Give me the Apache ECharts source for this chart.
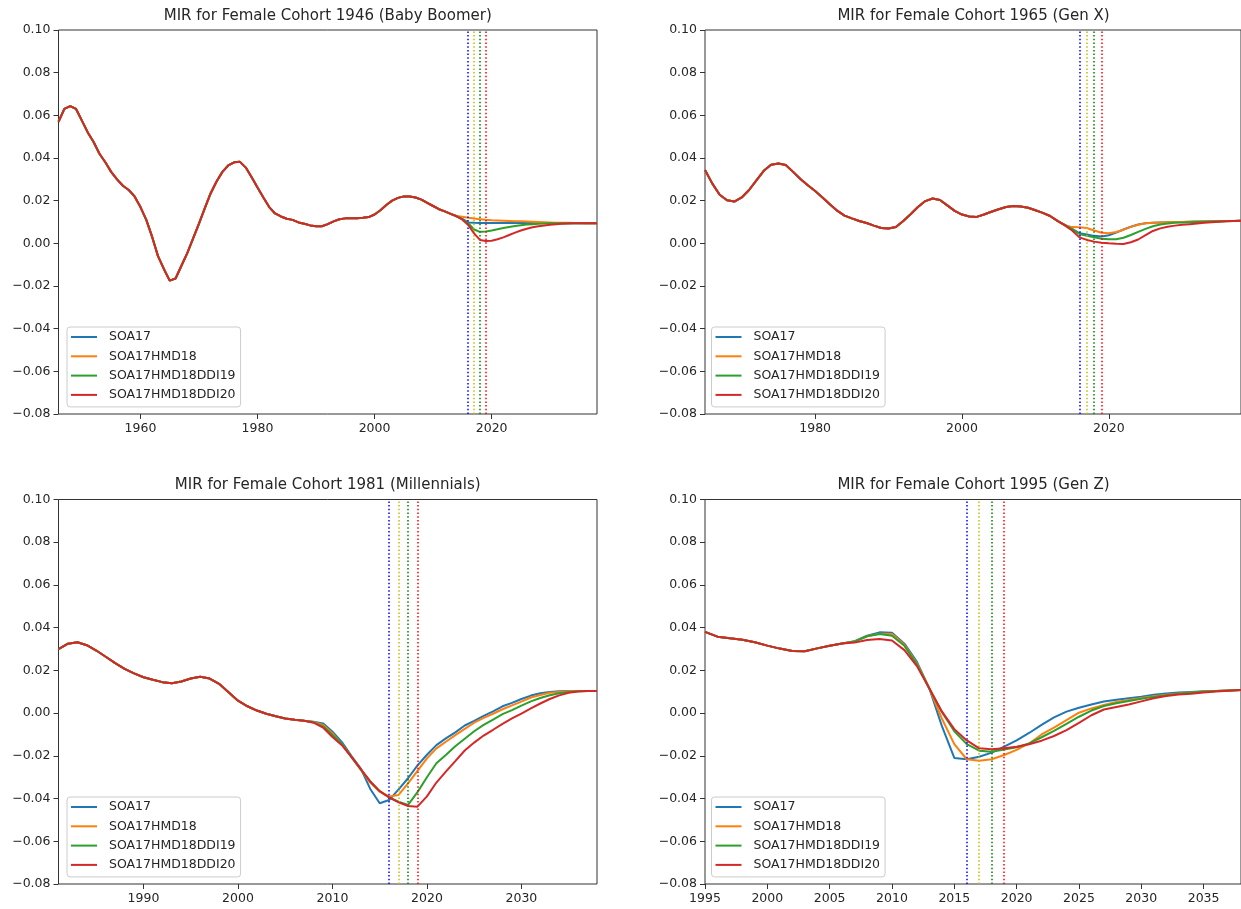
<!DOCTYPE html>
<html><head><meta charset="utf-8">
<script src="https://cdn.jsdelivr.net/npm/echarts@6/dist/echarts.min.js"></script>
<style>html,body{margin:0;padding:0;background:#fff}#c{width:1241px;height:909px}</style>
</head><body><div id="c"></div>
<script>
// ---------- labels ----------
const seriesNames = ['SOA17', 'SOA17HMD18', 'SOA17HMD18DDI19', 'SOA17HMD18DDI20'];
const panelTitles = [
  'MIR for Female Cohort 1946 (Baby Boomer)',
  'MIR for Female Cohort 1965 (Gen X)',
  'MIR for Female Cohort 1981 (Millennials)',
  'MIR for Female Cohort 1995 (Gen Z)'
];
const vlineYears = [2016, 2017, 2018, 2019];
const xTicks1946 = [1960, 1980, 2000, 2020];
const xTicks1965 = [1980, 2000, 2020];
const xTicks1981 = [1990, 2000, 2010, 2020, 2030];
const xTicks1995 = [1995, 2000, 2005, 2010, 2015, 2020, 2025, 2030, 2035];
const xRange1946 = [1946, 2038];
const xRange1965 = [1965, 2038];
const xRange1981 = [1981, 2038];
const xRange1995 = [1995, 2038];
const yMin = -0.08, yMax = 0.10, yStep = 0.02;

// ---------- Baby Boomer (1946) ----------
const boomerCommon = [ // 1946-2013
  0.057, 0.063, 0.0643, 0.063, 0.0575, 0.052, 0.0475, 0.042, 0.038, 0.0335,
  0.030, 0.027, 0.025, 0.022, 0.017, 0.011, 0.003, -0.006, -0.012, -0.0175,
  -0.0165, -0.0105, -0.0046, 0.0023, 0.0092, 0.0165, 0.0235, 0.029, 0.0335, 0.0365,
  0.038, 0.0382, 0.0355, 0.031, 0.0262, 0.0215, 0.017, 0.014, 0.0126, 0.0115,
  0.011, 0.0098, 0.0092, 0.0084, 0.008, 0.008, 0.009, 0.0103, 0.0113, 0.0117,
  0.0118, 0.0118, 0.012, 0.0123, 0.0135, 0.0155, 0.018, 0.020, 0.0213, 0.022,
  0.022, 0.0215, 0.0205, 0.019, 0.0175, 0.016, 0.015, 0.0138
];
const boomerSOA17 = [ // 2014-2038
  0.0127, 0.0115, 0.0098, 0.0096, 0.0095, 0.0095, 0.0095, 0.0095, 0.0095, 0.0095,
  0.0095, 0.0095, 0.0095, 0.0095, 0.0095, 0.0095, 0.0094, 0.0094, 0.0094, 0.0094,
  0.0094, 0.0094, 0.0094, 0.0094, 0.0094
];
const boomerHMD18 = [
  0.0128, 0.0125, 0.012, 0.0116, 0.0113, 0.011, 0.0108, 0.0107, 0.0106, 0.0105,
  0.0104, 0.0103, 0.0102, 0.0101, 0.010, 0.0099, 0.0098, 0.0097, 0.0096, 0.0096,
  0.0095, 0.0095, 0.0094, 0.0094, 0.0094
];
const boomerDDI19 = [
  0.0127, 0.0113, 0.0094, 0.0065, 0.0054, 0.0056, 0.006, 0.0066, 0.0072, 0.0077,
  0.0081, 0.0085, 0.0088, 0.009, 0.0092, 0.0093, 0.0094, 0.0094, 0.0094, 0.0094,
  0.0094, 0.0094, 0.0094, 0.0094, 0.0094
];
const boomerDDI20 = [
  0.0127, 0.0111, 0.0086, 0.0047, 0.0016, 0.0011, 0.0012, 0.0019, 0.0028, 0.0039,
  0.005, 0.006, 0.0068, 0.0075, 0.008, 0.0084, 0.0087, 0.009, 0.0092, 0.0093,
  0.0094, 0.0094, 0.0094, 0.0094, 0.0094
];

// ---------- Gen X (1965) ----------
const genXCommon = [ // 1965-2013
  0.0344, 0.028, 0.0228, 0.0202, 0.0196, 0.0215, 0.025, 0.0295, 0.034, 0.0368,
  0.0374, 0.0367, 0.0335, 0.0302, 0.0272, 0.0245, 0.0215, 0.0183, 0.0153, 0.013,
  0.0117, 0.0105, 0.0095, 0.0083, 0.0072, 0.007, 0.0077, 0.0105, 0.0136, 0.017,
  0.0198, 0.021, 0.0203, 0.0178, 0.0152, 0.0135, 0.0126, 0.0124, 0.0135, 0.0148,
  0.016, 0.017, 0.0175, 0.0173, 0.0167, 0.0155, 0.0143, 0.0128, 0.0105
];
const genXSOA17 = [ // 2014-2038
  0.0087, 0.0068, 0.0047, 0.0041, 0.0035, 0.0032, 0.0038, 0.005, 0.0065, 0.0078,
  0.0088, 0.0094, 0.0097, 0.0098, 0.0099, 0.010, 0.010, 0.0101, 0.0102, 0.0102,
  0.0103, 0.0104, 0.0105, 0.0105, 0.0106
];
const genXHMD18 = [
  0.0085, 0.0076, 0.0075, 0.0072, 0.006, 0.005, 0.0047, 0.0053, 0.0064, 0.0077,
  0.0087, 0.0094, 0.0097, 0.0098, 0.0099, 0.010, 0.010, 0.0101, 0.0102, 0.0102,
  0.0103, 0.0104, 0.0105, 0.0105, 0.0106
];
const genXDDI19 = [
  0.0086, 0.0067, 0.0044, 0.0035, 0.0028, 0.0022, 0.0019, 0.0019, 0.0026, 0.0039,
  0.0054, 0.0068, 0.008, 0.0088, 0.0093, 0.0096, 0.0098, 0.0099, 0.010, 0.0101,
  0.0102, 0.0103, 0.0104, 0.0105, 0.0106
];
const genXDDI20 = [
  0.0084, 0.006, 0.0028, 0.0016, 0.0008, 0.0003, 0.0, -0.0002, -0.0003, 0.0005,
  0.0018, 0.0038, 0.0058, 0.007, 0.0078, 0.0083, 0.0087, 0.009, 0.0093, 0.0096,
  0.0099, 0.0101, 0.0103, 0.0105, 0.0106
];

// ---------- Millennials (1981) ----------
const millCommon = [ // 1981-2007
  0.030, 0.0325, 0.0332, 0.0318, 0.0293, 0.0264, 0.0234, 0.0207, 0.0186, 0.0168,
  0.0156, 0.0145, 0.014, 0.0148, 0.0162, 0.017, 0.0162, 0.0137, 0.0098, 0.0058,
  0.0032, 0.0012, -0.0003, -0.0015, -0.0025, -0.0031, -0.0036
];
const millSOA17 = [ // 2008-2038
  -0.0040, -0.0048, -0.0087, -0.0136, -0.020, -0.026, -0.0355, -0.0422, -0.0407, -0.0357,
  -0.0305, -0.0245, -0.0195, -0.015, -0.0118, -0.009, -0.0058, -0.0036, -0.0013, 0.0008,
  0.0032, 0.0048, 0.0066, 0.0082, 0.0093, 0.0099, 0.0102, 0.0103, 0.0104, 0.0104, 0.0104
];
const millHMD18 = [
  -0.0042, -0.0055, -0.0095, -0.0145, -0.0205, -0.0265, -0.0325, -0.0368, -0.039, -0.0383,
  -0.0329, -0.027, -0.0212, -0.0165, -0.0134, -0.0103, -0.0074, -0.0045, -0.0022, -0.0003,
  0.0018, 0.0036, 0.0054, 0.0073, 0.0085, 0.0095, 0.0099, 0.0102, 0.0103, 0.0104, 0.0104
];
const millDDI19 = [
  -0.0043, -0.0062, -0.0102, -0.0145, -0.0205, -0.0265, -0.032, -0.0365, -0.0395, -0.0415,
  -0.043, -0.037, -0.030, -0.0235, -0.0196, -0.0155, -0.012, -0.0085, -0.0055, -0.003,
  -0.0005, 0.0014, 0.0035, 0.0055, 0.0071, 0.0084, 0.0093, 0.0099, 0.0102, 0.0104, 0.0104
];
const millDDI20 = [
  -0.0045, -0.0068, -0.0112, -0.015, -0.0205, -0.0262, -0.032, -0.0365, -0.0395, -0.0418,
  -0.0435, -0.0438, -0.039, -0.0325, -0.0274, -0.0225, -0.0175, -0.0138, -0.0105, -0.0078,
  -0.005, -0.0025, -0.0002, 0.0022, 0.0045, 0.0066, 0.0083, 0.0095, 0.0101, 0.0103, 0.0104
];

// ---------- Gen Z (1995) ----------
const genZCommon = [ // 1995-2006
  0.038, 0.0358, 0.035, 0.0343, 0.0332, 0.0316, 0.0302, 0.0291, 0.029, 0.0303, 0.0315, 0.0326
];
const genZSOA17 = [ // 2007-2038
  0.0337, 0.0362, 0.0378, 0.0376, 0.0325, 0.024, 0.0116, -0.006, -0.021, -0.0216,
  -0.0204, -0.0185, -0.0157, -0.0128, -0.0093, -0.0055, -0.002, 0.0007, 0.0025, 0.004,
  0.0054, 0.0063, 0.007, 0.0077, 0.0086, 0.0092, 0.0096, 0.0099, 0.0102, 0.0104, 0.0106, 0.0108
];
const genZHMD18 = [
  0.0335, 0.036, 0.0372, 0.037, 0.032, 0.0232, 0.0115, -0.0025, -0.0145, -0.0216,
  -0.0223, -0.0216, -0.0196, -0.0172, -0.0142, -0.010, -0.0068, -0.0033, 0.0002, 0.0022,
  0.0038, 0.0052, 0.0062, 0.0071, 0.0079, 0.0086, 0.0092, 0.0097, 0.0101, 0.0104, 0.0106, 0.0108
];
const genZDDI19 = [
  0.0335, 0.036, 0.037, 0.0362, 0.0315, 0.0228, 0.0115, 0.0005, -0.0085, -0.0145,
  -0.0176, -0.0181, -0.0171, -0.016, -0.0142, -0.0113, -0.0083, -0.005, -0.0017, 0.0012,
  0.0033, 0.0046, 0.0057, 0.0067, 0.0076, 0.0084, 0.0091, 0.0096, 0.010, 0.0103, 0.0106, 0.0108
];
const genZDDI20 = [
  0.033, 0.0342, 0.0347, 0.034, 0.0295, 0.022, 0.0115, 0.0008, -0.0075, -0.0128,
  -0.0165, -0.0169, -0.0165, -0.0157, -0.0146, -0.0129, -0.0107, -0.008, -0.0046, -0.001,
  0.0017, 0.0029, 0.004, 0.0055, 0.007, 0.008, 0.0087, 0.0091, 0.0096, 0.0101, 0.0105, 0.0108
];

// ---------- styling ----------
const lineColors = ['#1f77b4', '#ff7f0e', '#2ca02c', '#d62728'];
const vlineColors = ['#0000ff', '#bfbf00', '#008000', '#ff0000'];
const FONT = '"DejaVu Sans", sans-serif';
const TXT = '#262626';

const panels = [
  { range: xRange1946, ticks: xTicks1946, common: boomerCommon, tails: [boomerSOA17, boomerHMD18, boomerDDI19, boomerDDI20],
    grid: { left: 58.5, top: 30, width: 538.5, height: 384 }, legend: { left: 67, top: 327 } },
  { range: xRange1965, ticks: xTicks1965, common: genXCommon, tails: [genXSOA17, genXHMD18, genXDDI19, genXDDI20],
    grid: { left: 705, top: 30, width: 537, height: 384 }, legend: { left: 711.5, top: 327 } },
  { range: xRange1981, ticks: xTicks1981, common: millCommon, tails: [millSOA17, millHMD18, millDDI19, millDDI20],
    grid: { left: 58.5, top: 499.5, width: 538.5, height: 384.5 }, legend: { left: 67, top: 797 } },
  { range: xRange1995, ticks: xTicks1995, common: genZCommon, tails: [genZSOA17, genZHMD18, genZDDI19, genZDDI20],
    grid: { left: 705, top: 499.5, width: 537, height: 384.5 }, legend: { left: 711.5, top: 797 } }
];

const grids = [], xAxes = [], yAxes = [], series = [], legends = [], graphics = [];
const fmtY = v => (v < -1e-9 ? '\u2212' : '') + Math.abs(v).toFixed(2);
const fmtX = v => String(Math.round(v));

panels.forEach((p, pi) => {
  grids.push(Object.assign({ show: true, borderColor: '#333', borderWidth: 1, containLabel: false }, p.grid));
  xAxes.push({
    type: 'value', gridIndex: pi, min: p.range[0], max: p.range[1], position: 'bottom',
    axisLine: { show: false, onZero: false },
    axisTick: { show: true, inside: false, length: 5, customValues: p.ticks, lineStyle: { color: '#333', width: 1 } },
    axisLabel: { customValues: p.ticks, margin: 8, fontSize: 12.5, fontFamily: FONT, color: TXT, formatter: fmtX },
    splitLine: { show: false }
  });
  yAxes.push({
    type: 'value', gridIndex: pi, min: yMin, max: yMax, interval: yStep, position: 'left',
    axisLine: { show: false, onZero: false },
    axisTick: { show: true, inside: false, length: 5, lineStyle: { color: '#333', width: 1 } },
    axisLabel: { margin: 8, fontSize: 12.5, fontFamily: FONT, color: TXT, formatter: fmtY },
    splitLine: { show: false }
  });
  p.tails.forEach((tail, si) => {
    const vals = p.common.concat(tail);
    const s = {
      name: seriesNames[si], type: 'line', xAxisIndex: pi, yAxisIndex: pi,
      data: vals.map((v, k) => [p.range[0] + k, v]),
      symbol: 'none', showSymbol: false, smooth: false,
      lineStyle: { color: lineColors[si], width: 2 }, itemStyle: { color: lineColors[si] },
      animation: false, z: 2 + si
    };
    if (si === 3) {
      s.markLine = {
        silent: true, symbol: ['none', 'none'], label: { show: false }, animation: false,
        data: vlineYears.map((yr, i) => ({ xAxis: yr, lineStyle: { color: vlineColors[i], type: [1.5, 2.2], width: 1.5 } }))
      };
    }
    series.push(s);
  });
  legends.push({
    data: seriesNames, orient: 'vertical', left: p.legend.left, top: p.legend.top,
    icon: 'rect', itemWidth: 26, itemHeight: 2, itemGap: 5.3,
    padding: [3, 5, 5, 4], borderColor: '#cccccc', borderWidth: 1, borderRadius: 3,
    backgroundColor: 'rgba(255,255,255,0.8)', selectedMode: false,
    textStyle: { fontSize: 12.5, fontFamily: FONT, color: TXT, lineHeight: 14, padding: [0, 0, 0, 7] }
  });
  const cx = p.grid.left + p.grid.width / 2;
  const cy = p.grid.top - 14.3;
  graphics.push({
    type: 'text', x: cx, y: cy, silent: true,
    style: { text: panelTitles[pi], font: '15px ' + FONT, fill: TXT,
      align: 'center', textAlign: 'center', verticalAlign: 'middle', textVerticalAlign: 'middle' }
  });
});

const chart = echarts.init(document.getElementById('c'), null, { renderer: 'canvas' });
chart.setOption({
  backgroundColor: '#ffffff',
  animation: false,
  grid: grids, xAxis: xAxes, yAxis: yAxes, series: series, legend: legends, graphic: graphics
});
</script>
</body></html>
